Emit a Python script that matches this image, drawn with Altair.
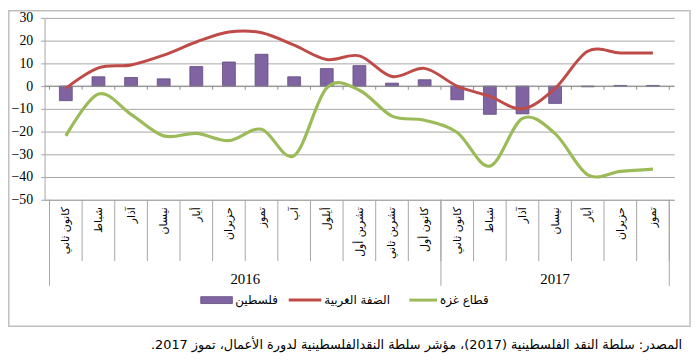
import json
import altair as alt
import pandas as pd

# ---------------- data ----------------
months = ["كانون ثاني", "شباط", "آذار", "نيسان", "أيار", "حزيران", "تموز", "آب",
          "أيلول", "تشرين أول", "تشرين ثاني", "كانون أول",
          "كانون ثاني", "شباط", "آذار", "نيسان", "أيار", "حزيران", "تموز"]
years = ["2016", "2017"]
year_months = [12, 7]
palestine = [-6.4, 4.1, 3.8, 3.2, 8.6, 10.6, 14.0, 4.1, 7.7, 9.0, 1.3, 2.8,
             -6.0, -12.4, -12.2, -7.6, -0.3, 0.3, 0.3]
west_bank = [-1.0, 8.0, 9.3, 13.6, 19.4, 23.8, 23.5, 18.0, 11.7, 13.3, 4.2, 7.8,
             0.0, -4.5, -10.0, -1.0, 15.3, 14.6, 14.6]
gaza = [-21.9, -3.5, -12.4, -21.9, -20.8, -24.0, -19.0, -30.6, -0.8, -1.8, -13.2, -15.0,
        -20.4, -35.2, -14.2, -20.9, -39.0, -37.5, -36.5]
series_names = ["فلسطين", "الضفة الغربية", "قطاع غزة"]
colors = ["#8064A2", "#BE4B48", "#9BBB59"]
y_ticks = [-50, -40, -30, -20, -10, 0, 10, 20, 30]
source_text = "المصدر: سلطة النقد الفلسطينية (2017)، مؤشر سلطة النقدالفلسطينية لدورة الأعمال، تموز 2017."

# ---------------- layout ----------------
W, H = 637, 184
GRID = "#a6a6a6"
AR_FONT = "DejaVu Sans"
RLE, PDF = "\u202b", "\u202c"

n = len(months)
idx = list(range(n))
df = pd.DataFrame({"i": idx, "month": months, "pal": palestine, "wb": west_bank, "gz": gaza})
bounds = [i - 0.5 for i in range(n + 1)]
bdf = pd.DataFrame({"b": bounds})
group_bounds = [-0.5]
for c in year_months:
    group_bounds.append(group_bounds[-1] + c)
gdf = pd.DataFrame({"b": group_bounds})
centers = [(group_bounds[k] + group_bounds[k + 1]) / 2 for k in range(len(years))]
ydf = pd.DataFrame({"year": years, "c": centers})
one = pd.DataFrame({"k": [0]})

xscale = alt.Scale(domain=[-0.5, n - 0.5], nice=False, zero=False)
yscale = alt.Scale(domain=[-50, 30], nice=False, zero=False)

label_expr = json.dumps(months, ensure_ascii=False) + "[datum.value]"
x_axis = alt.Axis(values=idx, labelExpr=label_expr, labelAngle=270, ticks=False, tickSize=0,
                  grid=False, domain=True, domainColor=GRID, labelPadding=7,
                  labelFont=AR_FONT, labelFontSize=11, labelColor="black",
                  labelOverlap=False, labelFlush=False, title=None)
y_axis = alt.Axis(values=y_ticks, grid=True, gridColor=GRID, domain=True, domainColor=GRID,
                  ticks=True, tickColor=GRID, tickSize=4, labelPadding=8,
                  labelFont="Liberation Serif", labelFontSize=14, labelColor="black",
                  labelOverlap=False, labelFlush=False, labelBound=False, title=None)


def X(field):
    return alt.X(f"{field}:Q", scale=xscale, axis=x_axis)


def Y(field):
    return alt.Y(f"{field}:Q", scale=yscale, axis=y_axis)


Y0 = alt.Y(datum=0, scale=yscale, axis=y_axis)

bars = alt.Chart(df).mark_bar(size=13, color=colors[0], stroke="#5f4a7d", strokeWidth=0.8).encode(
    x=X("i"), y=Y("pal"), y2=alt.Y2(datum=0)
)

zero_line = alt.Chart(one).mark_rule(color="#8c8c8c", strokeWidth=1).encode(y=Y0)
zero_ticks = alt.Chart(bdf).mark_rule(color="#8c8c8c", strokeWidth=1).encode(
    x=X("b"), y=Y0, y2=alt.Y2(datum=-1.6)
)

wb_line = alt.Chart(df).mark_line(color=colors[1], strokeWidth=3, interpolate="cardinal").encode(
    x=X("i"), y=Y("wb")
)
gz_line = alt.Chart(df).mark_line(color=colors[2], strokeWidth=3.2, interpolate="cardinal").encode(
    x=X("i"), y=Y("gz")
)

# category separators below the plot
sep = alt.Chart(bdf).mark_rule(color=GRID).encode(
    x=X("b"), y=alt.value(H), y2=alt.value(H + 62)
)
gsep = alt.Chart(gdf).mark_rule(color=GRID).encode(
    x=X("b"), y=alt.value(H), y2=alt.value(H + 87)
)
year_text = alt.Chart(ydf).mark_text(font="Liberation Serif", fontSize=15, baseline="middle",
                                     color="black").encode(
    x=X("c"), y=alt.value(H + 80), text="year:N"
)


# legend (manual, bottom)
def swatch(x0, x1, y0, y1, color, stroke=None):
    kw = {}
    if stroke:
        kw = {"stroke": stroke, "strokeWidth": 0.8}
    return alt.Chart(one).mark_rect(color=color, **kw).encode(
        x=alt.value(x0), x2=alt.value(x1), y=alt.value(y0), y2=alt.value(y1)
    )


def label(x0, yc, txt):
    return alt.Chart(one).mark_text(align="left", baseline="middle", font=AR_FONT, fontSize=12,
                                    color="black").encode(
        x=alt.value(x0), y=alt.value(yc), text=alt.value(txt)
    )


LY = 285.5
legend = [
    swatch(158, 190, LY - 3.5, LY + 3.5, colors[0], "#5f4a7d"),
    label(193, LY, series_names[0]),
    swatch(247, 280, LY - 1.5, LY + 1.5, colors[1]),
    label(283, LY, series_names[1]),
    swatch(369, 397, LY - 1.5, LY + 1.5, colors[2]),
    label(400, LY, series_names[2]),
]

frame = alt.Chart(one).mark_rect(fill="white", fillOpacity=0, stroke="#bfbfbf", strokeWidth=1.5).encode(
    x=alt.value(-36.2), x2=alt.value(653), y=alt.value(-7.2), y2=alt.value(312)
)

source = alt.Chart(one).mark_text(align="right", baseline="middle", font=AR_FONT, fontSize=13,
                                  color="black").encode(
    x=alt.value(645), y=alt.value(331), text=alt.value(RLE + source_text + PDF)
)

chart = alt.layer(
    bars, zero_line, zero_ticks, wb_line, gz_line, sep, gsep, year_text, *legend, frame, source
).properties(
    width=W, height=H,
    autosize=alt.AutoSizeParams(type="none"),
    padding={"left": 37, "top": 8, "right": 18, "bottom": 153},
    background="white",
).configure_view(stroke=None).configure_axis(labelOverlap=False)

chart.save("out.html", embed_options={"renderer": "svg", "actions": False})
